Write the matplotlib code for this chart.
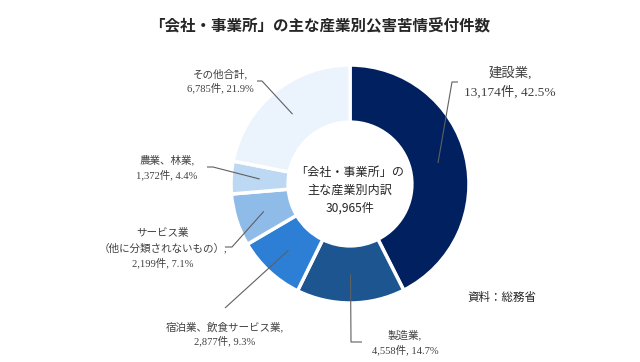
import matplotlib
matplotlib.use('Agg')
import matplotlib.pyplot as plt
import numpy as np

categories = ['建設業', '製造業', '宿泊業、飲食サービス業', 'サービス業', '農業、林業', 'その他合計']
counts = [13174, 4558, 2877, 2199, 1372, 6785]
percents = [42.5, 14.7, 9.3, 7.1, 4.4, 21.9]
total_label = '30,965件'
title = '「会社・事業所」の主な産業別公害苦情受付件数'
center_lines = ['「会社・事業所」の', '主な産業別内訳', total_label]
source = '資料：総務省'

colors = ['#002060', '#1c5590', '#2c7fd5', '#8fbbe8', '#bdd8f3', '#ebf3fc']

W, H = 640, 362
fig = plt.figure(figsize=(6.4, 3.62), dpi=100)
ax = fig.add_axes([0, 0, 1, 1])

def Y(y):
    return H - y

cx, cy = 350, Y(184)
R = 119
wedges, _ = ax.pie(counts, colors=colors, startangle=90, counterclock=False,
                   radius=R, center=(cx, cy),
                   wedgeprops=dict(width=R * 0.48, edgecolor='white', linewidth=2.5))
ax.set_xlim(0, W)
ax.set_ylim(0, H)
ax.set_aspect('equal')
ax.axis('off')

serif = ['Liberation Serif', 'Noto Sans CJK JP']
sans = ['Noto Sans CJK JP', 'DejaVu Sans']
lab_col = '#404040'
line_col = '#606060'

# label layout: (text lines, center x, line ys, fontsize, leader path after anchor)
label_text = []
for i, cat in enumerate(categories):
    num = f'{counts[i]:,}件, {percents[i]}%'
    if i == 3:
        label_text.append([cat, '（他に分類されないもの）,', num])
    else:
        label_text.append([cat + ',' if i != 2 else cat + ',', num])

layout = [
    (510, [73, 92], 9.6, [(452, 82), (458, 82)]),
    (405, [335, 350], 7.6, [(351, 342), (362, 342)]),
    (225, [327, 341], 7.6, [(225, 308)]),
    (163, [233, 248, 263], 7.6, [(232, 247), (225, 247)]),
    (167, [160, 175], 7.6, [(213, 167), (207, 167)]),
    (220, [74, 88], 7.6, [(262, 81), (257, 81)]),
]

for i, w in enumerate(wedges):
    mid = np.deg2rad((w.theta1 + w.theta2) / 2)
    ax_ = cx + 0.76 * R * np.cos(mid)
    ay_ = cy + 0.76 * R * np.sin(mid)
    lx, lys, fs, path = layout[i]
    xs = [ax_] + [p[0] for p in path]
    ys = [ay_] + [Y(p[1]) for p in path]
    ax.plot(xs, ys, color=line_col, lw=0.8, solid_capstyle='butt')
    for t, ly in zip(label_text[i], lys):
        ax.text(lx, Y(ly), t, ha='center', va='center', fontsize=fs,
                family=serif, color=lab_col)

for t, ly in zip(center_lines, [172, 190, 208]):
    ax.text(cx, Y(ly), t, ha='center', va='center', fontsize=8.7,
            family=sans, color='#262626')

ax.text(320, Y(25), title, ha='center', va='center', fontsize=11.2,
        family=sans, weight='bold', color='#262626')
ax.text(467, Y(297), source, ha='left', va='center', fontsize=8.3,
        family=sans, color='#262626')

fig.savefig('out.png', dpi=100)
